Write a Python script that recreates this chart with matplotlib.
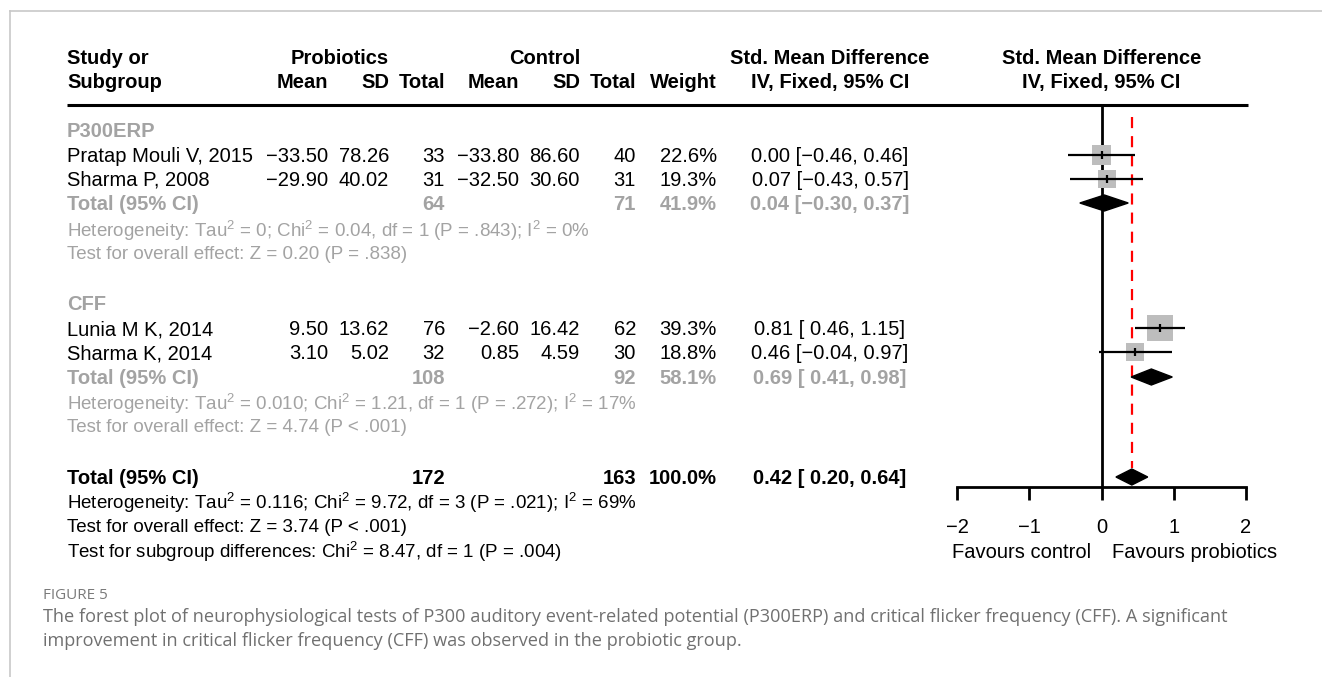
import matplotlib.pyplot as plt
from matplotlib.patches import Polygon
import numpy as np

plt.rcParams['font.family'] = ['Liberation Sans', 'DejaVu Sans']
plt.rcParams['mathtext.fontset'] = 'custom'
plt.rcParams['mathtext.rm'] = 'Liberation Sans'
plt.rcParams['mathtext.it'] = 'Liberation Sans:italic'
plt.rcParams['mathtext.bf'] = 'Liberation Sans:bold'

# --- data ---
subgroups = ["P300ERP", "CFF"]
studies = ["Pratap Mouli V, 2015", "Sharma P, 2008", "Lunia M K, 2014", "Sharma K, 2014"]
study_group = [0, 0, 1, 1]
prob_mean = [-33.50, -29.90, 9.50, 3.10]
prob_sd = [78.26, 40.02, 13.62, 5.02]
prob_n = [33, 31, 76, 32]
ctrl_mean = [-33.80, -32.50, -2.60, 0.85]
ctrl_sd = [86.60, 30.60, 16.42, 4.59]
ctrl_n = [40, 31, 62, 30]
weight = [22.6, 19.3, 39.3, 18.8]
smd = [0.00, 0.07, 0.81, 0.46]
ci_lo = [-0.46, -0.43, 0.46, -0.04]
ci_hi = [0.46, 0.57, 1.15, 0.97]

sub_prob_n = [64, 108]
sub_ctrl_n = [71, 92]
sub_weight = [41.9, 58.1]
sub_smd = [0.04, 0.69]
sub_lo = [-0.30, 0.41]
sub_hi = [0.37, 0.98]
sub_het = ["Heterogeneity: Tau$^2$ = 0; Chi$^2$ = 0.04, df = 1 (P = .843); I$^2$ = 0%",
           "Heterogeneity: Tau$^2$ = 0.010; Chi$^2$ = 1.21, df = 1 (P = .272); I$^2$ = 17%"]
sub_z = ["Test for overall effect: Z = 0.20 (P = .838)",
         "Test for overall effect: Z = 4.74 (P < .001)"]

total_prob_n = 172
total_ctrl_n = 163
total_weight = 100.0
total_smd = 0.42
total_lo = 0.20
total_hi = 0.64
total_het = "Heterogeneity: Tau$^2$ = 0.116; Chi$^2$ = 9.72, df = 3 (P = .021); I$^2$ = 69%"
total_z = "Test for overall effect: Z = 3.74 (P < .001)"
subgroup_test = "Test for subgroup differences: Chi$^2$ = 8.47, df = 1 (P = .004)"

x_ticks = [-2, -1, 0, 1, 2]
favours = ["Favours control", "Favours probiotics"]
caption_label = "FIGURE 5"
caption_lines = [
    "The forest plot of neurophysiological tests of P300 auditory event-related potential (P300ERP) "
    "and critical flicker frequency (CFF). A significant",
    "improvement in critical flicker frequency (CFF) was observed in the probiotic group.",
]

# --- layout (pixels of the 1322x677 canvas) ---
W, H = 1322, 677
FS = 14.5       # table text
FS_NOTE = 13.5  # heterogeneity / test lines
GRAY = '#a3a3a3'
x_study = 67
x_pm, x_psd, x_pn = 328, 389, 445
x_cm, x_csd, x_cn = 519, 580, 636
x_w, x_ci = 717, 830
study_y = [155, 179, 328, 352]
group_y = [130, 303]
sub_total_y = [203, 377]
sub_het_y = [230, 403]
sub_z_y = [252, 425]
total_y, total_het_y, total_z_y, subtest_y = 477, 502, 525, 551
plot_left, plot_right, plot_top, plot_bottom = 957, 1246, 105, 487


def num(v, fmt="{:.2f}"):
    return fmt.format(v).replace("-", "\u2212")


def ci_text(est, lo, hi):
    return num(est) + " [" + num(lo, "{:5.2f}") + ", " + num(hi) + "]"


fig = plt.figure(figsize=(W / 100, H / 100), dpi=100)
lay = fig.add_axes([0, 0, 1, 1])
lay.set_xlim(0, W)
lay.set_ylim(H, 0)
lay.axis('off')


def put(x, y, s, ha='left', color='black', weight='normal', size=FS, **kw):
    # y is the visual centre of the row, text sits on a baseline just below it
    lay.text(x, y + 7, s, ha=ha, va='baseline', color=color, fontweight=weight,
             fontsize=size, **kw)


# frame of the figure panel
lay.plot([10, W], [11, 11], color='#c8c8c8', lw=1.2)
lay.plot([10, 10], [11, H], color='#c8c8c8', lw=1.2)

# headers
put(x_study, 57, "Study or", weight='bold')
put(x_study, 81, "Subgroup", weight='bold')
put(x_psd, 57, "Probiotics", ha='right', weight='bold')
put(x_csd, 57, "Control", ha='right', weight='bold')
for x, s in [(x_pm, "Mean"), (x_psd, "SD"), (x_pn, "Total"), (x_cm, "Mean"),
             (x_csd, "SD"), (x_cn, "Total"), (x_w, "Weight")]:
    put(x, 81, s, ha='right', weight='bold')
put(x_ci, 57, "Std. Mean Difference", ha='center', weight='bold')
put(x_ci, 81, "IV, Fixed, 95% CI", ha='center', weight='bold')
put((plot_left + plot_right) / 2, 57, "Std. Mean Difference", ha='center', weight='bold')
put((plot_left + plot_right) / 2, 81, "IV, Fixed, 95% CI", ha='center', weight='bold')
lay.plot([x_study, 1248], [plot_top, plot_top], color='black', lw=2.2, solid_capstyle='butt')

# table rows
for i, name in enumerate(studies):
    y = study_y[i]
    put(x_study, y, name)
    put(x_pm, y, num(prob_mean[i]), ha='right')
    put(x_psd, y, num(prob_sd[i]), ha='right')
    put(x_pn, y, str(prob_n[i]), ha='right')
    put(x_cm, y, num(ctrl_mean[i]), ha='right')
    put(x_csd, y, num(ctrl_sd[i]), ha='right')
    put(x_cn, y, str(ctrl_n[i]), ha='right')
    put(x_w, y, num(weight[i], "{:.1f}") + "%", ha='right')
    put(x_ci, y, ci_text(smd[i], ci_lo[i], ci_hi[i]), ha='center')

for g, name in enumerate(subgroups):
    put(x_study, group_y[g], name, color=GRAY, weight='bold')
    y = sub_total_y[g]
    put(x_study, y, "Total (95% CI)", color=GRAY, weight='bold')
    put(x_pn, y, str(sub_prob_n[g]), ha='right', color=GRAY, weight='bold')
    put(x_cn, y, str(sub_ctrl_n[g]), ha='right', color=GRAY, weight='bold')
    put(x_w, y, num(sub_weight[g], "{:.1f}") + "%", ha='right', color=GRAY, weight='bold')
    put(x_ci, y, ci_text(sub_smd[g], sub_lo[g], sub_hi[g]), ha='center', color=GRAY, weight='bold')
    put(x_study, sub_het_y[g], sub_het[g], color=GRAY, size=FS_NOTE)
    put(x_study, sub_z_y[g], sub_z[g], color=GRAY, size=FS_NOTE)

put(x_study, total_y, "Total (95% CI)", weight='bold')
put(x_pn, total_y, str(total_prob_n), ha='right', weight='bold')
put(x_cn, total_y, str(total_ctrl_n), ha='right', weight='bold')
put(x_w, total_y, num(total_weight, "{:.1f}") + "%", ha='right', weight='bold')
put(x_ci, total_y, ci_text(total_smd, total_lo, total_hi), ha='center', weight='bold')
put(x_study, total_het_y, total_het, size=FS_NOTE)
put(x_study, total_z_y, total_z, size=FS_NOTE)
put(x_study, subtest_y, subgroup_test, size=FS_NOTE)

# caption
lay.text(43, 599, caption_label, fontsize=11, color='#7a7a7a', family='Open Sans')
for k, line in enumerate(caption_lines):
    lay.text(43, 622 + 24 * k, line, fontsize=13.05, color='#707070', family='Open Sans',
             va='baseline')

# forest plot
ax = fig.add_axes([plot_left / W, (H - plot_bottom) / H,
                   (plot_right - plot_left) / W, (plot_bottom - plot_top) / H])
ax.patch.set_visible(False)
ax.set_xlim(-2, 2)
ax.set_ylim(plot_bottom, plot_top)
for side in ['top', 'left', 'right']:
    ax.spines[side].set_visible(False)
ax.spines['bottom'].set_linewidth(2)
ax.set_yticks([])
ax.set_xticks(x_ticks)
ax.tick_params(axis='x', length=9, width=2, pad=13.5, labelsize=FS)

ax.axvline(0, color='black', lw=2, zorder=2)
ax.vlines(total_smd, 117, 468, colors='red', linestyles=(0, (5, 3.6)), lw=1.6, zorder=1)

side_px = 4.1 * np.sqrt(weight)
ax.scatter(smd, study_y, marker='s', s=(side_px * 0.72) ** 2, color='#bdbdbd',
           linewidths=0, zorder=3, clip_on=False)
ax.hlines(study_y, ci_lo, ci_hi, colors='black', lw=1.6, zorder=4)
ax.vlines(smd, np.array(study_y) - 4, np.array(study_y) + 4, colors='black', lw=1.6, zorder=4)


def diamond(est, lo, hi, y, half=8):
    ax.add_patch(Polygon([(lo, y), (est, y - half), (hi, y), (est, y + half)],
                         closed=True, color='black', zorder=4, clip_on=False))


for g in range(len(subgroups)):
    diamond(sub_smd[g], sub_lo[g], sub_hi[g], sub_total_y[g])
diamond(total_smd, total_lo, total_hi, total_y)

ax.text(-0.15, subtest_y + 7, favours[0], ha='right', va='baseline', fontsize=FS)
ax.text(0.14, subtest_y + 7, favours[1], ha='left', va='baseline', fontsize=FS)

fig.savefig("out.png", dpi=100)
